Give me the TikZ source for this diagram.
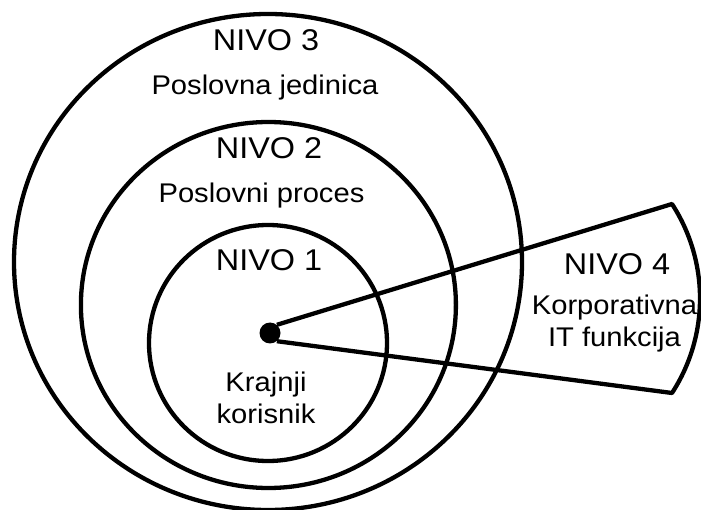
\documentclass[tikz,border=0pt]{standalone}
\usepackage{fontspec}
\setmainfont[FakeStretch=1.08]{Liberation Sans}
\begin{document}
\begin{tikzpicture}[x=1pt,y=-1pt,
  ring/.style={draw=black, line width=4.3pt},
  lvl/.style={font=\fontsize{30}{32}\selectfont, anchor=base, inner sep=0pt},
  sub/.style={font=\fontsize{27}{32}\selectfont, align=center, anchor=base, inner sep=0pt},
]
\useasboundingbox (0,0) rectangle (701,510);

% concentric levels
\draw[ring] (268,262) ellipse [x radius=254, y radius=248];
\draw[ring] (268.4,305) ellipse [x radius=187.5, y radius=183];
\draw[ring] (268,343) ellipse [x radius=119, y radius=118];

% hub and the corporate IT sector
\node[circle, fill=black, inner sep=0pt, minimum size=21pt] (hub) at (270,333) {};
\coordinate (tr) at (672,204);
\draw[ring, line join=round] (hub.50) -- (tr)
  arc[start angle=33, end angle=-33, radius=173.5pt] -- (hub.-50);

% labels (multi-line labels are placed by the baseline of their last line)
\node[lvl] (n3) at (266,50.7) {NIVO 3};
\node[sub] (p3) at (265,95) {Poslovna jedinica};
\node[lvl] (n2) at (269,159) {NIVO 2};
\node[sub] (p2) at (261.5,203) {Poslovni proces};
\node[lvl] (n1) at (269,271) {NIVO 1};
\node[sub] (p1) at (266,423) {Krajnji\\korisnik};
\node[lvl] (n4) at (617,274.3) {NIVO 4};
\node[sub] (p4) at (614.5,346) {Korporativna\\IT funkcija};
\end{tikzpicture}
\end{document}
